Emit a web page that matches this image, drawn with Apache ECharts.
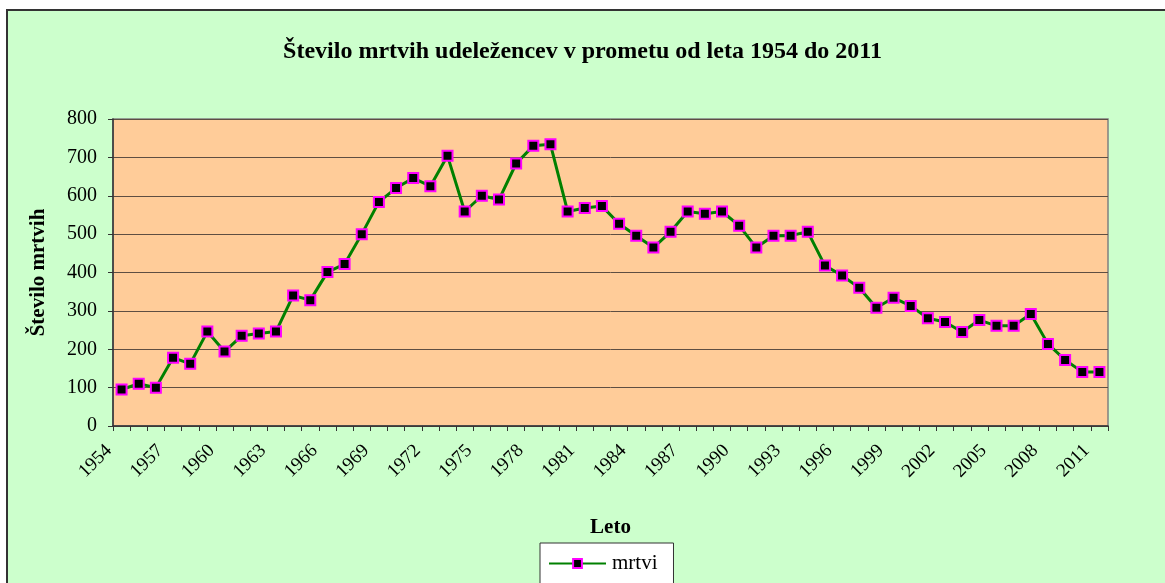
<!DOCTYPE html>
<html>
<head>
<meta charset="utf-8">
<script src="https://cdn.jsdelivr.net/npm/echarts@6/dist/echarts.min.js"></script>
<style>
html,body{margin:0;padding:0;background:#ffffff;}
#chart{width:1165px;height:583px;}
</style>
</head>
<body>
<div id="chart"></div>
<script>
const years = [1954,1955,1956,1957,1958,1959,1960,1961,1962,1963,1964,1965,1966,1967,1968,1969,1970,1971,1972,1973,1974,1975,1976,1977,1978,1979,1980,1981,1982,1983,1984,1985,1986,1987,1988,1989,1990,1991,1992,1993,1994,1995,1996,1997,1998,1999,2000,2001,2002,2003,2004,2005,2006,2007,2008,2009,2010,2011].map(String);
const mrtvi = [95,110,100,178,162,246,194,235,241,246,340,328,401,422,500,584,620,646,625,704,559,600,590,684,730,734,559,568,573,527,496,465,506,559,553,559,522,465,496,496,506,418,392,360,308,334,313,281,271,245,276,261,261,292,214,172,141,141];
const yTicks = [0,100,200,300,400,500,600,700,800];
const seriesName = 'mrtvi';
const titleText = 'Število mrtvih udeležencev v prometu od leta 1954 do 2011';
const xTitle = 'Leto';
const yTitle = 'Število mrtvih';

const serif = '"Liberation Serif", "Times New Roman", serif';
const chart = echarts.init(document.getElementById('chart'));
chart.setOption({
  animation: false,
  backgroundColor: '#ffffff',
  graphic: [{
    type: 'rect', z: -10, silent: true,
    shape: { x: 7, y: 10, width: 1200, height: 700 },
    style: { fill: '#CCFFCC', stroke: '#333333', lineWidth: 2 }
  }],
  title: {
    text: titleText, left: 'center', top: 35,
    textStyle: { fontFamily: serif, fontWeight: 'bold', fontSize: 24, color: '#000' }
  },
  legend: {
    data: [seriesName], left: 540, top: 543,
    backgroundColor: '#ffffff', borderColor: '#333333', borderWidth: 1,
    padding: [10, 16, 30, 8],
    itemWidth: 57, itemHeight: 11, itemGap: 0,
    textStyle: { fontFamily: serif, fontSize: 21, color: '#000', padding: [0, 0, 0, 1] }
  },
  grid: {
    left: 113, right: 57, top: 119, bottom: 157,
    show: true, backgroundColor: '#FFCC99', borderColor: '#808080', borderWidth: 1.5
  },
  xAxis: {
    type: 'category', data: years, boundaryGap: true,
    name: xTitle, nameLocation: 'middle', nameGap: 91,
    nameTextStyle: { fontFamily: serif, fontWeight: 'bold', fontSize: 21, color: '#000' },
    axisLine: { lineStyle: { color: '#333', width: 1.5 } },
    axisTick: { show: true, interval: 0, length: 5, lineStyle: { color: '#333' } },
    axisLabel: {
      interval: 2, rotate: 45, margin: 9,
      padding: [0, 18, 0, 0],
      fontFamily: serif, fontSize: 19, color: '#000'
    }
  },
  yAxis: {
    type: 'value', min: 0, max: 800, interval: 100,
    name: yTitle, nameLocation: 'middle', nameGap: 64, nameRotate: 90,
    nameTextStyle: { fontFamily: serif, fontWeight: 'bold', fontSize: 21, color: '#000' },
    axisLine: { show: true, lineStyle: { color: '#333', width: 1.5 } },
    axisTick: { show: true, length: 5, lineStyle: { color: '#333' } },
    axisLabel: {
      margin: 16, fontFamily: serif, fontSize: 20, color: '#000',
      formatter: v => yTicks.includes(v) ? String(v) : ''
    },
    splitLine: { show: true, lineStyle: { color: '#5e4e42', width: 1 } }
  },
  series: [{
    name: seriesName, type: 'line', data: mrtvi,
    symbol: 'rect', symbolSize: 10, showAllSymbol: true,
    lineStyle: { color: '#008000', width: 3 },
    itemStyle: { color: '#000000', borderColor: '#FF00FF', borderWidth: 2 }
  }]
});
</script>
</body>
</html>
